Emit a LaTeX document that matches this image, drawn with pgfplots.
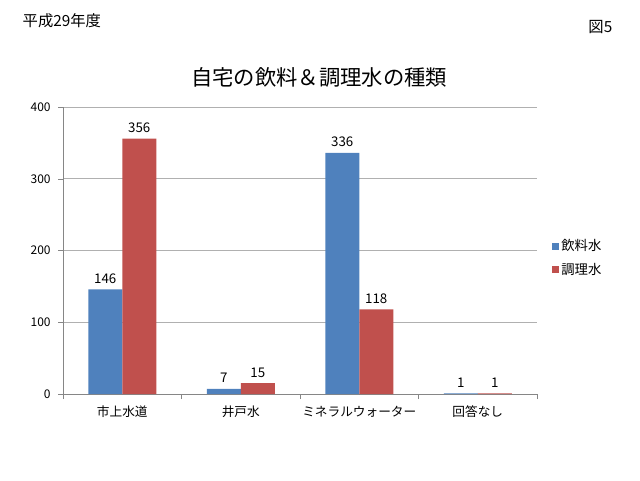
\documentclass[border=0pt]{standalone}
\usepackage{fontspec}
\setmainfont{Noto Sans CJK JP}
\usepackage{pgfplots}
\pgfplotsset{compat=1.18}
\definecolor{serA}{HTML}{4F81BD}
\definecolor{serB}{HTML}{C0504D}
\definecolor{axisgray}{HTML}{868686}
\definecolor{gridgray}{HTML}{B0B0B0}
\begin{document}
\begin{tikzpicture}[x=0.75pt,y=0.75pt]
\useasboundingbox (0,0) rectangle (640,480);
\begin{axis}[
  at={(47.25pt,64.5pt)}, anchor=south west,
  scale only axis, width=355.5pt, height=215.25pt,
  xmin=-0.5, xmax=3.5, ymin=0, ymax=400,
  ytick={0,100,200,300,400},
  xtick={0,1,2,3},
  xticklabels={市上水道,井戸水,ミネラルウォーター,回答なし},
  minor xtick={-0.5,0.5,1.5,2.5,3.5},
  major x tick style={draw=none},
  minor x tick style={draw=axisgray},
  ytick style={draw=axisgray},
  tick align=outside,
  major tick length=3.75pt, minor tick length=3.75pt,
  axis x line*=bottom, axis y line*=left,
  axis line style={draw=axisgray,-},
  ymajorgrids, grid style={draw=gridgray, line width=0.6pt},
  /pgf/number format/assume math mode=true,
  yticklabel style={font=\fontsize{9}{10}\selectfont, text=black, xshift=-2pt},
  xticklabel style={font=\fontsize{9.5}{11}\selectfont, text=black, yshift=-1.5pt},
  ybar=0pt, bar width=25.5pt,
  nodes near coords,
  every node near coord/.append style={font=\fontsize{10}{12}\selectfont, text=black, yshift=1pt},
  legend style={at={(1.022,0.474)}, anchor=west, draw=none, fill=none,
    font=\fontsize{10}{12}\selectfont, row sep=3.5pt,
    /tikz/every even column/.append style={column sep=2pt}},
  legend cell align=left,
  legend image code/.code={\fill[#1] (0pt,-2.6pt) rectangle (5.25pt,2.6pt);},
]
\addplot[draw=none, fill=serA] coordinates {(0,146) (1,7) (2,336) (3,1)};
\addplot[draw=none, fill=serB] coordinates {(0,356) (1,15) (2,118) (3,1)};
\legend{飲料水,調理水}
\end{axis}
\node[font=\fontsize{16}{19}\selectfont] at (319,403) {自宅の飲料＆調理水の種類};
\node[anchor=west, font=\fontsize{11.5}{14}\selectfont] at (18,459) {平成29年度};
\node[anchor=east, font=\fontsize{11.5}{14}\selectfont] at (617,453) {図5};
\end{tikzpicture}
\end{document}
